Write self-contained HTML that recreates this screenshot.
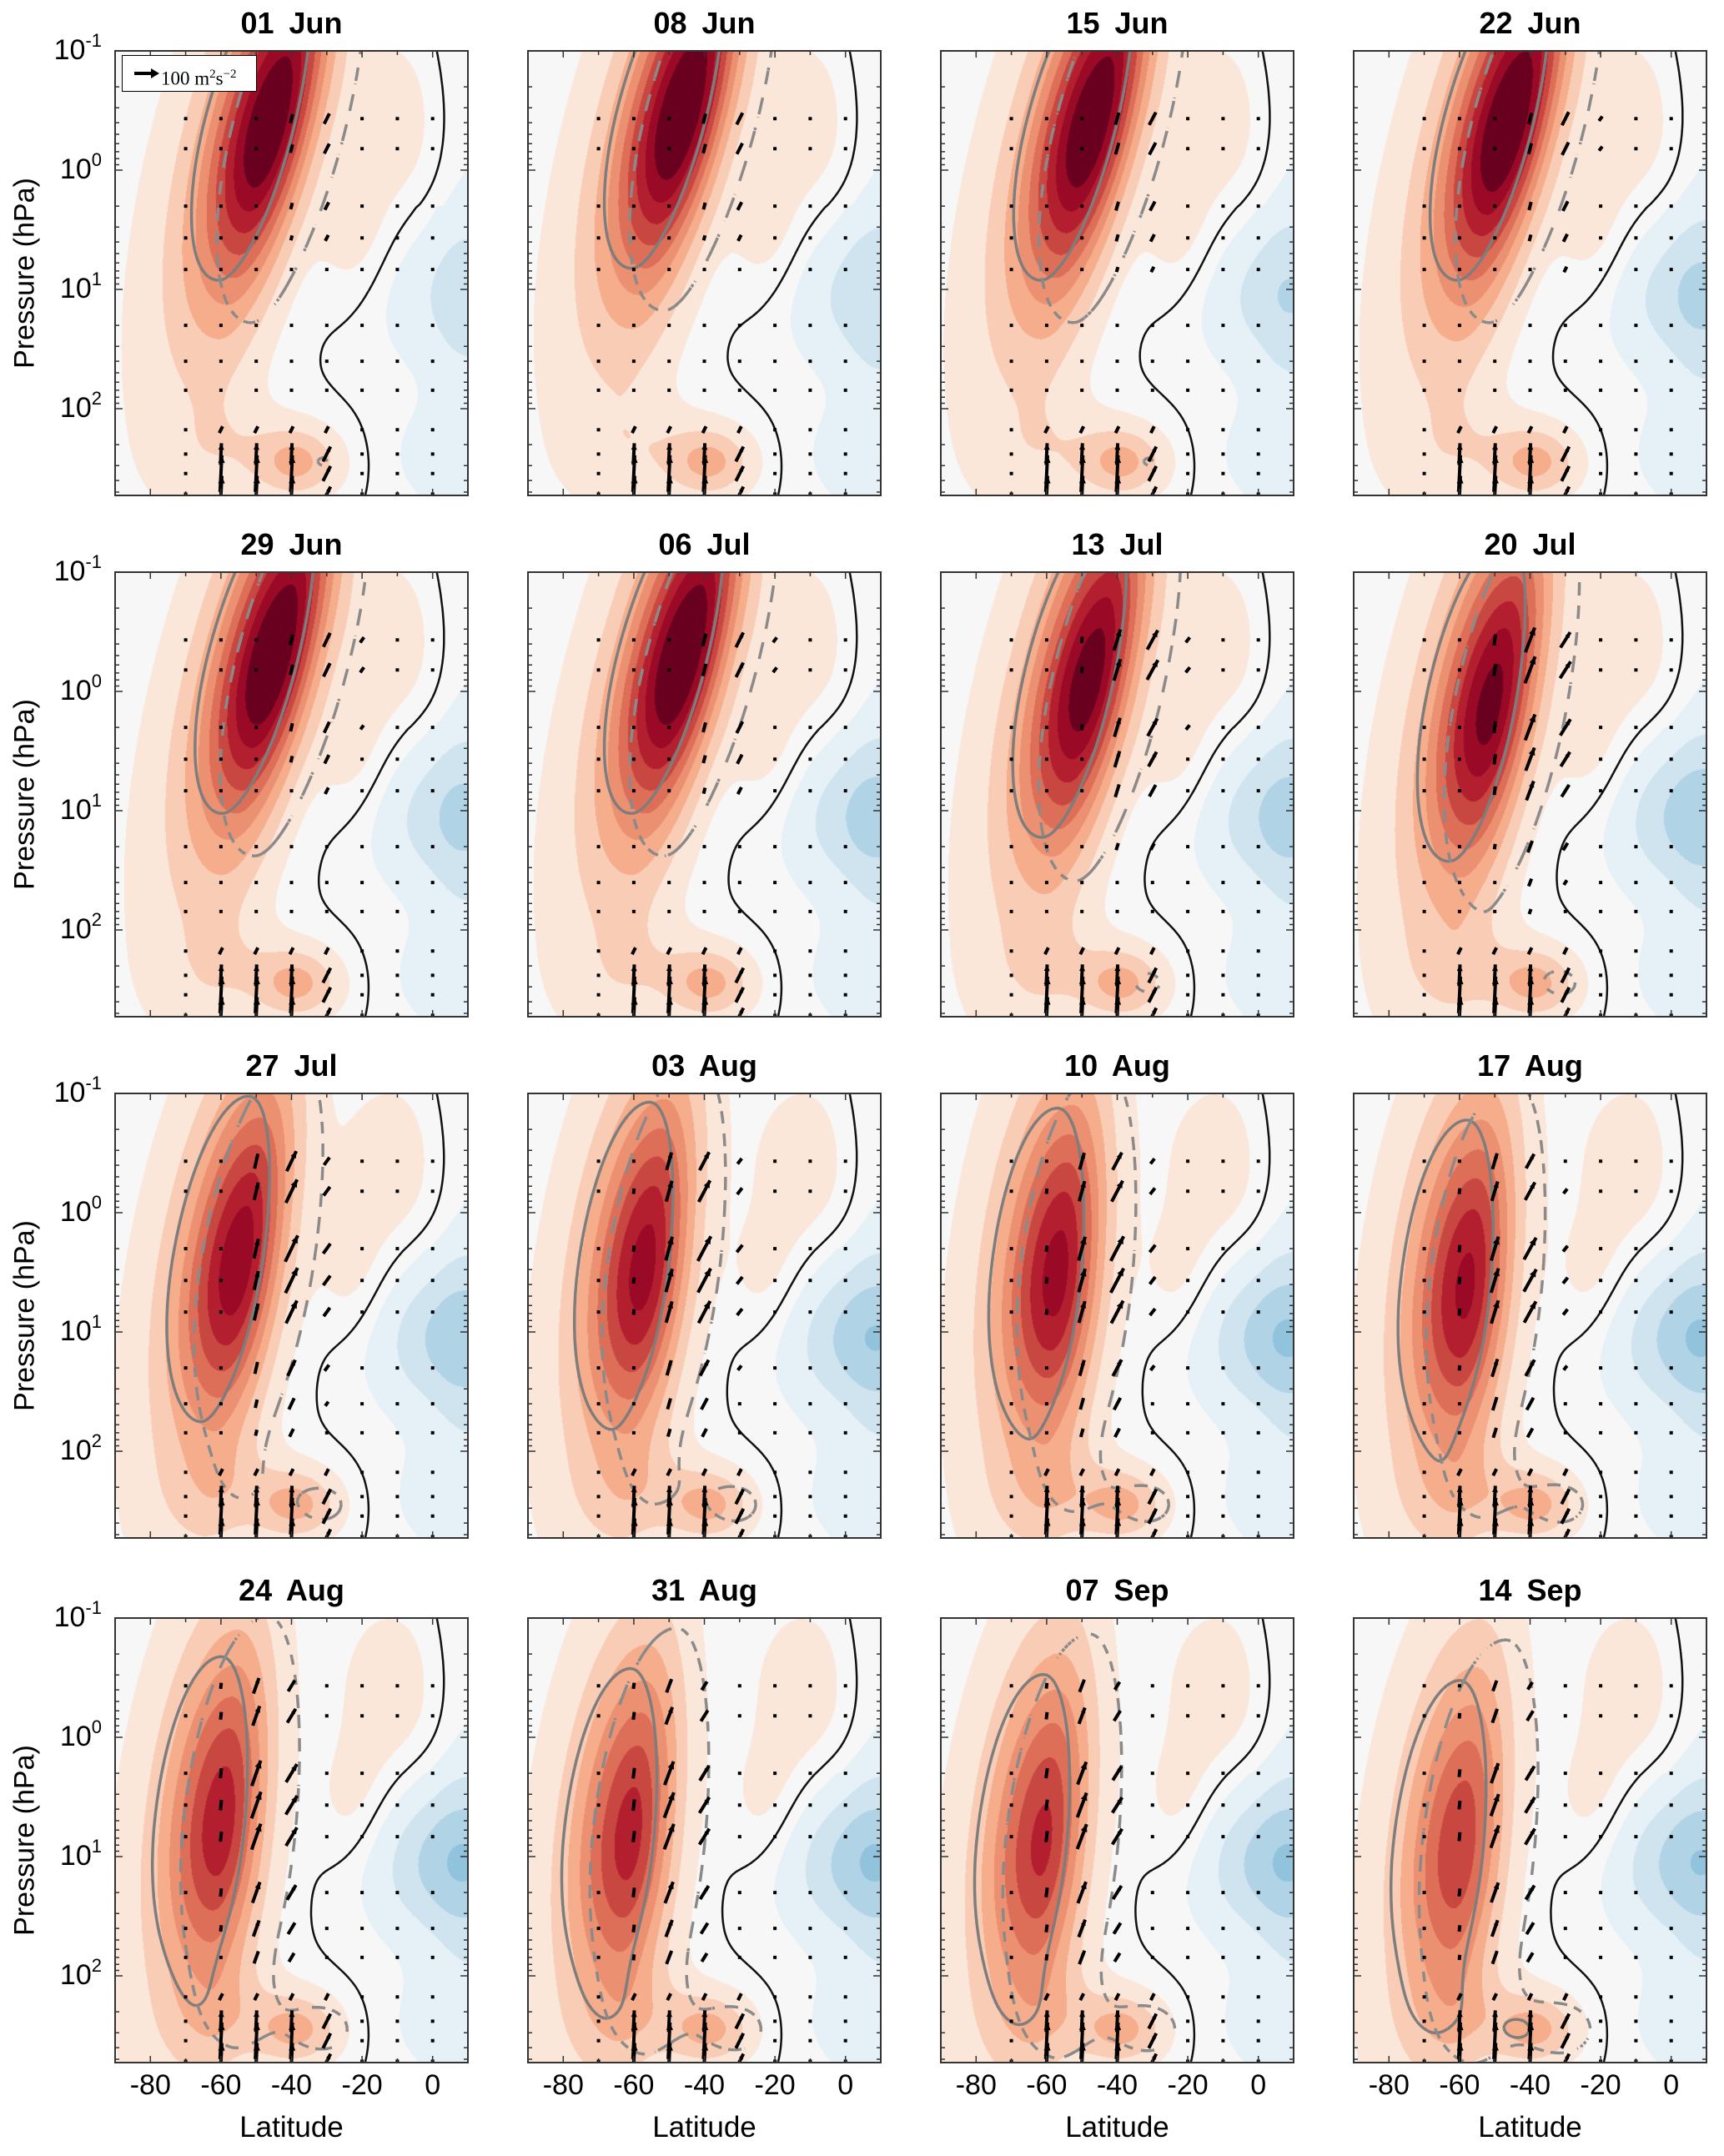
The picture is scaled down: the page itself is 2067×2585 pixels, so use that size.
<!DOCTYPE html>
<html><head><meta charset="utf-8">
<style>
body{margin:0;background:#fff;width:2067px;height:2585px;position:relative;overflow:hidden;font-family:"Liberation Sans",sans-serif;}
.panel{position:absolute;width:423px;height:533px;}
.panel canvas{position:absolute;left:0;top:0;}
.panel svg{position:absolute;left:0;top:0;overflow:visible;}
.title{position:absolute;font-weight:bold;font-size:36px;width:423px;text-align:center;word-spacing:8px;}
.ytl{position:absolute;font-size:34px;text-align:right;width:100px;}
.ytl sup{font-size:22px;position:relative;top:-5px;vertical-align:top;}
.xtl{position:absolute;font-size:34px;text-align:center;width:90px;}
.xlab{position:absolute;font-size:35px;text-align:center;width:423px;}
.ylab{position:absolute;font-size:34px;transform:rotate(-90deg);transform-origin:center;width:300px;text-align:center;}
.legend{position:absolute;left:8px;top:5px;width:162px;height:44px;background:#fff;border:1.5px solid #000;font-family:"Liberation Serif",serif;font-size:23px;line-height:44px;box-sizing:border-box;padding-left:46px;}
.legend sup{font-size:15px;}
</style></head>
<body>
<div id="fig"></div>
<script>
const titles=["01  Jun","08  Jun","15  Jun","22  Jun","29  Jun","06  Jul","13  Jul","20  Jul","27  Jul","03  Aug","10  Aug","17  Aug","24  Aug","31  Aug","07  Sep","14  Sep"];
const coreLat=[-46,-46,-47,-46,-45,-46,-48,-51,-55,-57,-57,-58,-60,-61,-61,-60];
const coreZ=[-0.4,-0.5,-0.4,-0.4,-0.3,-0.3,-0.1,0.1,0.4,0.45,0.5,0.6,0.7,0.8,0.85,0.9];
const corePeak=[0.98,1.0,0.98,1.0,1.0,1.0,0.93,0.9,0.83,0.8,0.8,0.78,0.72,0.7,0.68,0.63];
const coreTilt=[-8,-8,-8,-8,-8,-8,-7,-6,-5,-4,-3,-3,-3,-3,-3,-3];
const blueAmp=[0.14,0.18,0.19,0.22,0.22,0.24,0.24,0.27,0.27,0.29,0.3,0.3,0.3,0.3,0.3,0.29];
const arrowAmp=[0.35,0.4,0.45,0.45,0.45,0.5,0.75,0.85,0.85,0.88,0.88,0.85,0.85,0.8,0.78,0.72];
const latTicks=[-80,-60,-40,-20,0];
const pTickExp=[-1,0,1,2];
const quiverLats=[-70,-60,-50,-40,-30,-20,-10,0];
const quiverP=[0.37,0.66,2,3.7,6.8,20,40,70,150,240,350,520];

const LAT0=-90,LAT1=10,Z0=-1,Z1=2.727,W=423,H=533;
const colLeft=[138,633,1128,1623], rowTop=[61,686,1311,1940];
const xOf=lat=>(lat-LAT0)/(LAT1-LAT0)*W;
const yOf=z=>(z-Z0)/(Z1-Z0)*H;
const latOf=x=>LAT0+(LAT1-LAT0)*x/W;
const zOf=y=>Z0+(Z1-Z0)*y/H;
const g=(d,s)=>Math.exp(-0.5*(d/s)*(d/s));

function field(i,lat,z){
  const c=coreLat[i],z0=coreZ[i],A=corePeak[i]/1.5;
  const lc=c+coreTilt[i]*(z-z0);
  const dl=lat-lc;
  const sz=z<z0?1.0:0.85;
  let v=A*g(dl,dl>0?8:10)*g(z-z0,sz);
  v+=0.5*A*g(dl,dl>0?10:17)*g(z-(z0+0.2),1.5);
  v+=0.09*g(lat+12,11)*g(z+0.4,0.55);
  v+=0.08*g(lat+22,8)*g(z-0.6,0.4);
  v+=0.26*g(lat+38,8)*g(z-2.45,0.2);
  v+=0.1*g(lat+55,12)*g(z-2.35,0.3);
  v-=blueAmp[i]*g(lat-6,16)*g(z-1.05,0.45);
  v-=0.08/(1+Math.exp(-(lat-2)/3))*(z>0.3?1:0.7);
  v-=0.07/(1+Math.exp(-(lat+12)/4))*g(z-2.4,0.35);
  return v;
}
const posCols=["#fbe6da","#f9ccb5","#f5ad8c","#ec9072","#dd6f59","#c94741","#b41f2f","#9a0a26","#6a001f"];
const negCols=["#e6f0f7","#d0e4f0","#b1d3e6","#92c3dd"];
function hex(h){return [parseInt(h.substr(1,2),16),parseInt(h.substr(3,2),16),parseInt(h.substr(5,2),16)];}
const posRGB=posCols.map(hex),negRGB=negCols.map(hex),neu=hex("#f7f7f7");
function colorOf(v){
  if(v>=0.05){let k=Math.min(8,Math.floor((v-0.05)/0.1));return posRGB[k];}
  if(v<=-0.05){let k=Math.min(3,Math.floor((-v-0.05)/0.1));return negRGB[k];}
  return neu;
}
const NS="http://www.w3.org/2000/svg";
function contour(i,level,shift,step,dash){
  const nx=Math.ceil(W/step),ny=Math.ceil(H/step);
  const vals=[];
  for(let jy=0;jy<=ny;jy++){const r=[];for(let jx=0;jx<=nx;jx++){r.push(field(i,latOf(jx*step)-shift,zOf(jy*step))-level);}vals.push(r);}
  let d="";
  for(let jy=0;jy<ny;jy++)for(let jx=0;jx<nx;jx++){
    const a=vals[jy][jx],b=vals[jy][jx+1],cc=vals[jy+1][jx+1],dd=vals[jy+1][jx];
    const x0=jx*step,y0=jy*step,pts=[];
    if((a>0)!=(b>0))pts.push([x0+step*a/(a-b),y0]);
    if((b>0)!=(cc>0))pts.push([x0+step,y0+step*b/(b-cc)]);
    if((dd>0)!=(cc>0))pts.push([x0+step*dd/(dd-cc),y0+step]);
    if((a>0)!=(dd>0))pts.push([x0,y0+step*a/(a-dd)]);
    if(dash&&Math.floor((x0+y0)/14)%2==1)continue;
    for(let k=0;k+1<pts.length;k+=2)d+="M"+pts[k][0].toFixed(1)+" "+pts[k][1].toFixed(1)+"L"+pts[k+1][0].toFixed(1)+" "+pts[k+1][1].toFixed(1);
  }
  return d;
}
const fig=document.getElementById('fig');
for(let i=0;i<16;i++){
  const r=Math.floor(i/4),cI=i%4,L=colLeft[cI],T=rowTop[r];
  const t=document.createElement('div');t.className='title';t.style.left=L+'px';t.style.top=(T-54)+'px';t.textContent=titles[i];
  
  
  fig.appendChild(t);
  const p=document.createElement('div');p.className='panel';p.style.left=L+'px';p.style.top=T+'px';
  
  
  fig.appendChild(p);
  const cv=document.createElement('canvas');cv.width=W;cv.height=H;
  
  
  p.appendChild(cv);
  const ctx=cv.getContext('2d'),img=ctx.createImageData(W,H);
  for(let y=0;y<H;y++){const z=zOf(y+0.5);for(let x=0;x<W;x++){const col=colorOf(field(i,latOf(x+0.5),z));const o=(y*W+x)*4;img.data[o]=col[0];img.data[o+1]=col[1];img.data[o+2]=col[2];img.data[o+3]=255;}}
  ctx.putImageData(img,0,0);
  const svg=document.createElementNS(NS,'svg');svg.setAttribute('width',W);svg.setAttribute('height',H);
  
  
  p.appendChild(svg);
  const mk=(tag,attrs)=>{const e=document.createElementNS(NS,tag);for(const k in attrs)e.setAttribute(k,attrs[k]);svg.appendChild(e);return e;};
  const cp=document.createElementNS(NS,'clipPath');cp.id='clip'+i;const cr=document.createElementNS(NS,'rect');cr.setAttribute('width',W);cr.setAttribute('height',H);cp.appendChild(cr);svg.appendChild(cp);
  const clip='url(#clip'+i+')';
  let e=mk('path',{d:contour(i,0,0,4,false),stroke:'#111',"stroke-width":2.5,fill:'none',"clip-path":clip});
  
  
  e=mk('path',{d:contour(i,0.45*corePeak[i],-4,4,false),stroke:'#7d7d7d',"stroke-width":3.5,fill:'none',"clip-path":clip});
  
  
  e=mk('path',{d:contour(i,0.3*corePeak[i],8,4,true),stroke:'#8a8a8a',"stroke-width":3.5,fill:'none',"clip-path":clip});
  
  
  let qd="",hd="";
  for(const lat of quiverLats){for(const pr of quiverP){
    const z=Math.log10(pr),x=xOf(lat),y=yOf(z);
    let dx=0.5,dy=-1,len=0;
    if(pr>=200){ if(lat>=-60&&lat<=-40){dx=0.05;len=(pr>=300?44:26);} else if(lat==-30){len=20;} }
    else if(pr>=100){ if(lat>=-60&&lat<=-30)len=9; }
    else { const s=arrowAmp[i]*g(lat-(coreLat[i]+13),9)*g(z-(coreZ[i]-0.1),1.0); len=42*s; dx=Math.max(0.1,0.35+0.025*(lat-coreLat[i]-10)); }
    if(len<6){qd+="M"+(x-2).toFixed(1)+" "+y.toFixed(1)+"h4";continue;}
    const n=Math.hypot(dx,dy),ux=dx/n,uy=dy/n;
    const x1=x-ux*len/2,y1=y-uy*len/2,x2=x+ux*len/2,y2=y+uy*len/2;
    qd+="M"+x1.toFixed(1)+" "+y1.toFixed(1)+"L"+x2.toFixed(1)+" "+y2.toFixed(1);
    if(len>16){const hs=Math.min(9,len*0.3),px=-uy,py=ux;
      hd+="M"+x2.toFixed(1)+" "+y2.toFixed(1)+"L"+(x2-ux*hs+px*hs*0.45).toFixed(1)+" "+(y2-uy*hs+py*hs*0.45).toFixed(1)+"L"+(x2-ux*hs-px*hs*0.45).toFixed(1)+" "+(y2-uy*hs-py*hs*0.45).toFixed(1)+"Z";}
  }}
  e=mk('path',{d:qd,stroke:'#000',"stroke-width":4,fill:'none',"clip-path":clip});
  
  
  e=mk('path',{d:hd,fill:'#000',"clip-path":clip});
  
  
  let td="";
  for(let lat=-90;lat<=10;lat+=10){const x=xOf(lat),l=(lat%20==0)?8:5;td+="M"+x+" "+H+"v-"+l+"M"+x+" 0v"+l;}
  for(let ex=-1;ex<=2;ex++){for(let m=1;m<10;m++){const z=ex+Math.log10(m);if(z>Z1)break;const y=yOf(z),l=m==1?9:5;td+="M0 "+y.toFixed(1)+"h"+l+"M"+W+" "+y.toFixed(1)+"h-"+l;}}
  e=mk('path',{d:td,stroke:'#333',"stroke-width":1.5,fill:'none'});
  
  
  e=mk('rect',{x:0,y:0,width:W,height:H,fill:'none',stroke:'#333',"stroke-width":2});
  
  
  if(cI==0){
    for(const ex of pTickExp){const d=document.createElement('div');d.className='ytl';d.style.left=(L-116)+'px';d.style.top=(T+yOf(ex)-20)+'px';d.innerHTML='10<sup>'+(ex<0?'-':'')+Math.abs(ex)+'</sup>';
      
      
      fig.appendChild(d);}
    const yl=document.createElement('div');yl.className='ylab';yl.textContent='Pressure (hPa)';yl.style.left=(30-150)+'px';yl.style.top=(T+H/2-20)+'px';
    
    
    fig.appendChild(yl);
  }
  if(r==3){
    for(const lat of latTicks){const d=document.createElement('div');d.className='xtl';d.style.left=(L+xOf(lat)-45)+'px';d.style.top=(T+H+8)+'px';d.textContent=String(lat);
      
      
      fig.appendChild(d);}
    const xl=document.createElement('div');xl.className='xlab';xl.textContent='Latitude';xl.style.left=L+'px';xl.style.top=(T+H+58)+'px';
    
    
    fig.appendChild(xl);
  }
  if(i==0){
    const lg=document.createElement('div');lg.className='legend';lg.innerHTML='100 m<sup>2</sup>s<sup>&minus;2</sup>';
    
    
    p.appendChild(lg);
    const ls=document.createElementNS(NS,'svg');ls.setAttribute('width',40);ls.setAttribute('height',20);ls.style.left='12px';ls.style.top='11px';ls.style.position='absolute';
    ls.innerHTML='<path d="M2 10H24" stroke="#000" stroke-width="4"/><path d="M32 10L22 4V16Z" fill="#000"/>';
    
    
    lg.appendChild(ls);
  }
}
</script>
</body></html>
